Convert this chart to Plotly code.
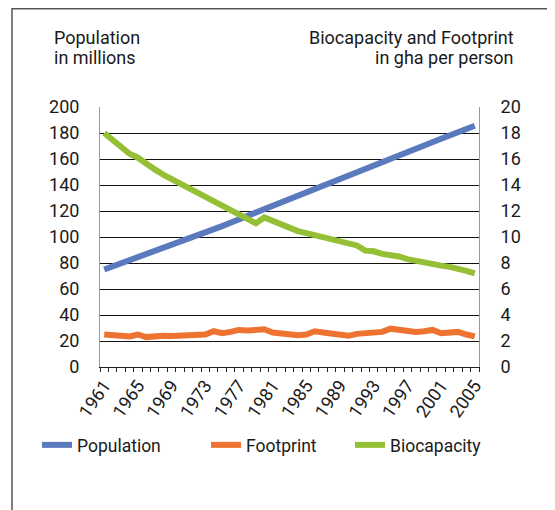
import plotly.graph_objects as go

years = list(range(1961, 2006))

population = [75.0, 77.3, 79.6, 81.9, 84.2, 86.6, 88.9, 91.3, 93.7, 96.1,
              98.5, 100.9, 103.4, 105.9, 108.4, 111.0, 113.6, 116.2, 118.9, 121.6,
              124.3, 127.0, 129.7, 132.4, 135.1, 137.8, 140.4, 143.0, 145.6, 148.2,
              150.7, 153.2, 155.7, 158.1, 160.6, 163.1, 165.6, 168.1, 170.6, 173.1,
              175.6, 178.1, 180.6, 183.1, 185.6]

footprint = [2.5, 2.5, 2.4, 2.35, 2.5, 2.3, 2.4, 2.4, 2.38, 2.4,
             2.45, 2.5, 2.5, 2.75, 2.6, 2.7, 2.85, 2.8, 2.85, 2.9,
             2.65, 2.6, 2.45, 2.45, 2.5, 2.75, 2.65, 2.55, 2.5, 2.4,
             2.55, 2.6, 2.65, 2.7, 2.95, 2.85, 2.75, 2.7, 2.75, 2.85,
             2.6, 2.65, 2.7, 2.5, 2.35]

biocapacity = [18.0, 17.5, 16.9, 16.4, 16.1, 15.6, 15.2, 14.8, 14.45, 14.1,
               13.8, 13.45, 13.1, 12.75, 12.35, 12.05, 11.75, 11.4, 11.05, 11.5,
               11.25, 10.9, 10.75, 10.45, 10.3, 10.15, 10.05, 9.9, 9.7, 9.5,
               9.35, 8.95, 8.9, 8.7, 8.65, 8.5, 8.3, 8.15, 8.0, 7.95,
               7.8, 7.7, 7.6, 7.4, 7.2]

label_years = list(range(1961, 2006, 4))

FONT = "Roboto, DejaVu Sans, sans-serif"
NUMFONT = "Liberation Sans Narrow, Roboto, sans-serif"
W, H = 555, 510
OFF = 8  # page body margin
L, R, T, B = 100 - OFF, 479 - OFF, 107 - OFF, 367 - OFF

def px_x(p):
    return (p - OFF - L) / (R - L)

def px_y(p):
    return (B - (p - OFF)) / (B - T)

fig = go.Figure()
fig.add_trace(go.Scatter(x=years, y=population, name="Population", mode="lines",
                         line=dict(color="#5B79BD", width=6), yaxis="y", legend="legend"))
fig.add_trace(go.Scatter(x=years, y=footprint, name="Footprint", mode="lines",
                         line=dict(color="#EE7330", width=6), yaxis="y2", legend="legend2"))
fig.add_trace(go.Scatter(x=years, y=biocapacity, name="Biocapacity", mode="lines",
                         line=dict(color="#95BF35", width=6), yaxis="y2", legend="legend3"))

def leg(xpx):
    return dict(orientation="h", x=px_x(xpx), xanchor="left", y=px_y(427), yanchor="top",
                font=dict(size=17.5), itemwidth=30, bgcolor="rgba(0,0,0,0)")

tickfont = dict(family=NUMFONT, size=18, color="#1a1a1a")

fig.update_layout(
    width=W, height=H,
    margin=dict(l=L, r=W - R, t=T, b=H - B, autoexpand=False),
    paper_bgcolor="white", plot_bgcolor="white",
    font=dict(family=FONT, size=17, color="#1a1a1a"),
    showlegend=True,
    legend=leg(37), legend2=leg(206), legend3=leg(350),
    xaxis=dict(range=[1960.5, 2005.5], tickvals=label_years,
               ticktext=[str(v) for v in label_years], tickangle=-55,
               ticks="", showgrid=False, zeroline=False,
               showline=True, linecolor="#222", linewidth=1,
               minor=dict(ticks="outside", ticklen=4, tickcolor="#222",
                          tick0=1960.5, dtick=1, showgrid=False),
               tickfont=tickfont),
    yaxis=dict(range=[0, 200], dtick=20, showgrid=True, gridcolor="#111", gridwidth=1,
               zeroline=False, showline=True, linecolor="#999", linewidth=1,
               ticks="outside", ticklen=16, tickcolor="rgba(0,0,0,0)",
               minor=dict(ticks="outside", ticklen=3, tickcolor="#999",
                          tick0=0, dtick=20, showgrid=False),
               tickfont=tickfont),
    yaxis2=dict(range=[0, 20], dtick=2, overlaying="y", side="right", showgrid=False,
                zeroline=False, showline=True, linecolor="#999", linewidth=1,
                ticks="outside", ticklen=17, tickcolor="rgba(0,0,0,0)",
                minor=dict(ticks="outside", ticklen=3, tickcolor="#999",
                           tick0=0, dtick=2, showgrid=False),
                tickfont=tickfont),
    annotations=[
        dict(text="Population", xref="paper", yref="paper",
             x=px_x(52), y=px_y(25), xanchor="left", yanchor="top",
             showarrow=False, font=dict(size=18)),
        dict(text="in millions", xref="paper", yref="paper",
             x=px_x(52), y=px_y(45), xanchor="left", yanchor="top",
             showarrow=False, font=dict(size=18)),
        dict(text="Biocapacity and Footprint", xref="paper", yref="paper",
             x=px_x(516), y=px_y(25), xanchor="right", yanchor="top",
             showarrow=False, font=dict(size=18)),
        dict(text="in gha per person", xref="paper", yref="paper",
             x=px_x(516), y=px_y(45), xanchor="right", yanchor="top",
             showarrow=False, font=dict(size=18)),
    ],
    shapes=[
        dict(type="rect", xref="paper", yref="paper",
             x0=px_x(12), x1=px_x(548), y0=px_y(530), y1=px_y(8.8),
             line=dict(color="#555", width=1.5), fillcolor="rgba(0,0,0,0)", layer="below"),
    ],
)

fig.write_html("out.html")
